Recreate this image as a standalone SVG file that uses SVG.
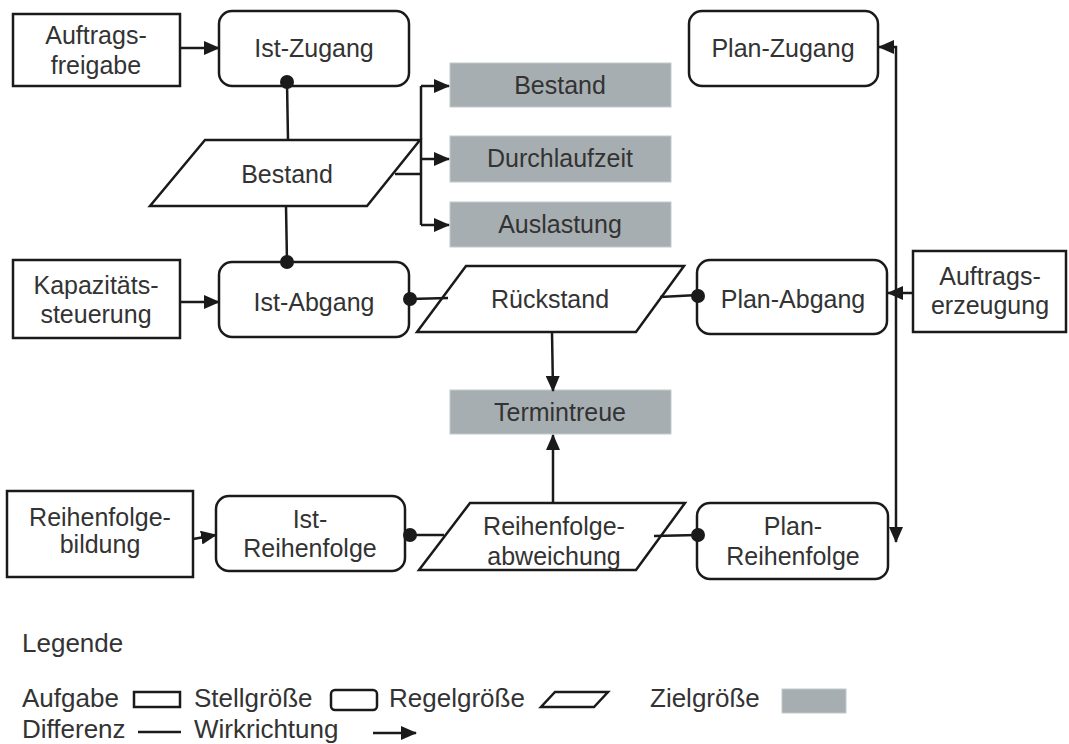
<svg xmlns="http://www.w3.org/2000/svg" width="1069" height="744" viewBox="0 0 1069 744">
<style>
text{font-family:"Liberation Sans",Arial,sans-serif;font-size:25px;fill:#333;text-anchor:middle}
.leg{font-size:26px;text-anchor:start}
.task{fill:#fff;stroke:#1a1a1a;stroke-width:2.5}
.ctl{fill:#fff;stroke:#1a1a1a;stroke-width:2.5}
.reg{fill:#fff;stroke:#1a1a1a;stroke-width:2.5;stroke-linejoin:miter}
.goal{fill:#a7aeb2;stroke:#c4c9cc;stroke-width:1}
.ln{fill:none;stroke:#1a1a1a;stroke-width:2.5}
.arr{fill:none;stroke:#1a1a1a;stroke-width:2.5;marker-end:url(#ah)}
.dot{fill:#1a1a1a}
</style>
<defs>
<marker id="ah" markerUnits="userSpaceOnUse" markerWidth="16" markerHeight="14" refX="15" refY="7" orient="auto">
<path d="M0,0 L16,7 L0,14 Z" fill="#1a1a1a"/>
</marker>
</defs>

<g id="auftragsfreigabe">
<rect class="task" x="13" y="14" width="167" height="72"/>
<text x="96" y="44">Auftrags-</text>
<text x="96" y="74">freigabe</text>
</g>
<g id="ist-zugang">
<rect class="ctl" x="219" y="11" width="190" height="75" rx="13"/>
<text x="314" y="57">Ist-Zugang</text>
</g>
<g id="bestand-regel">
<polygon class="reg" points="205,140 420,140 367,206 150,206"/>
<text x="287" y="183">Bestand</text>
</g>
<g id="kapazitaetssteuerung">
<rect class="task" x="13" y="260" width="167" height="78"/>
<text x="96" y="294">Kapazitäts-</text>
<text x="96" y="323">steuerung</text>
</g>
<g id="ist-abgang">
<rect class="ctl" x="219" y="262" width="190" height="75" rx="13"/>
<text x="314" y="311">Ist-Abgang</text>
</g>
<g id="ziel-bestand">
<rect class="goal" x="450" y="63" width="221" height="44"/>
<text x="560" y="94">Bestand</text>
</g>
<g id="ziel-durchlaufzeit">
<rect class="goal" x="450" y="136" width="221" height="46"/>
<text x="560" y="167">Durchlaufzeit</text>
</g>
<g id="ziel-auslastung">
<rect class="goal" x="450" y="202" width="221" height="45"/>
<text x="560" y="233">Auslastung</text>
</g>
<g id="plan-zugang">
<rect class="ctl" x="689" y="11" width="189" height="75" rx="13"/>
<text x="783" y="57">Plan-Zugang</text>
</g>
<g id="rueckstand">
<polygon class="reg" points="466,266 684,266 636,332 417,332"/>
<text x="550" y="308">Rückstand</text>
</g>
<g id="plan-abgang">
<rect class="ctl" x="697" y="260" width="190" height="74" rx="13"/>
<text x="793" y="308">Plan-Abgang</text>
</g>
<g id="auftragserzeugung">
<rect class="task" x="913" y="251" width="153" height="81"/>
<text x="990" y="285">Auftrags-</text>
<text x="990" y="314">erzeugung</text>
</g>
<g id="termintreue">
<rect class="goal" x="450" y="390" width="221" height="44"/>
<text x="560" y="421">Termintreue</text>
</g>
<g id="reihenfolgebildung">
<rect class="task" x="7" y="491" width="186" height="86"/>
<text x="100" y="526">Reihenfolge-</text>
<text x="100" y="553">bildung</text>
</g>
<g id="ist-reihenfolge">
<rect class="ctl" x="216" y="496" width="189" height="75" rx="13"/>
<text x="310" y="528">Ist-</text>
<text x="310" y="557">Reihenfolge</text>
</g>
<g id="reihenfolgeabweichung">
<polygon class="reg" points="470,503 685,503 636,570 419,570"/>
<text x="554" y="535">Reihenfolge-</text>
<text x="554" y="565">abweichung</text>
</g>
<g id="plan-reihenfolge">
<rect class="ctl" x="697" y="503" width="191" height="76" rx="13"/>
<text x="793" y="535">Plan-</text>
<text x="793" y="565">Reihenfolge</text>
</g>

<g id="connectors">
<line class="arr" x1="180" y1="48" x2="219" y2="48"/>
<line class="arr" x1="180" y1="302" x2="219" y2="302"/>
<line class="arr" x1="193" y1="539" x2="216" y2="535"/>
<line class="ln" x1="287" y1="82" x2="288" y2="140"/>
<line class="ln" x1="286" y1="206" x2="287" y2="262"/>
<path class="ln" d="M395,174 H421 M421,86 V225"/>
<line class="arr" x1="421" y1="86" x2="449" y2="86"/>
<line class="arr" x1="421" y1="159" x2="449" y2="159"/>
<line class="arr" x1="421" y1="225" x2="449" y2="225"/>
<line class="ln" x1="410" y1="299" x2="448" y2="298"/>
<line class="ln" x1="660" y1="297" x2="698" y2="295"/>
<line class="arr" x1="552" y1="332" x2="553" y2="391"/>
<line class="arr" x1="553" y1="503" x2="553" y2="435"/>
<line class="ln" x1="410" y1="535" x2="444" y2="535"/>
<line class="ln" x1="654" y1="536" x2="698" y2="535"/>
<path class="arr" d="M896,296 V47 H879"/>
<line class="arr" x1="913" y1="293" x2="888" y2="293"/>
<line class="arr" x1="896" y1="293" x2="896" y2="542"/>
<circle class="dot" cx="287" cy="82" r="7"/>
<circle class="dot" cx="287" cy="262" r="7"/>
<circle class="dot" cx="410" cy="299" r="7"/>
<circle class="dot" cx="698" cy="296" r="7"/>
<circle class="dot" cx="410" cy="535" r="7"/>
<circle class="dot" cx="698" cy="535" r="7"/>
</g>

<g id="legende">
<text class="leg" x="22" y="652">Legende</text>
<text class="leg" x="22" y="707">Aufgabe</text>
<rect class="task" x="134" y="692" width="46" height="15"/>
<text class="leg" x="194" y="707">Stellgröße</text>
<rect class="ctl" x="331" y="690" width="46" height="20" rx="4"/>
<text class="leg" x="389" y="707">Regelgröße</text>
<polygon class="reg" points="555,692 608,692 594,707 541,707"/>
<text class="leg" x="650" y="707">Zielgröße</text>
<rect class="goal" x="782" y="689" width="64" height="24"/>
<text class="leg" x="22" y="738">Differenz</text>
<line class="ln" x1="138" y1="732" x2="181" y2="732"/>
<text class="leg" x="194" y="738">Wirkrichtung</text>
<line class="arr" x1="373" y1="733" x2="416" y2="733"/>
</g>
</svg>
